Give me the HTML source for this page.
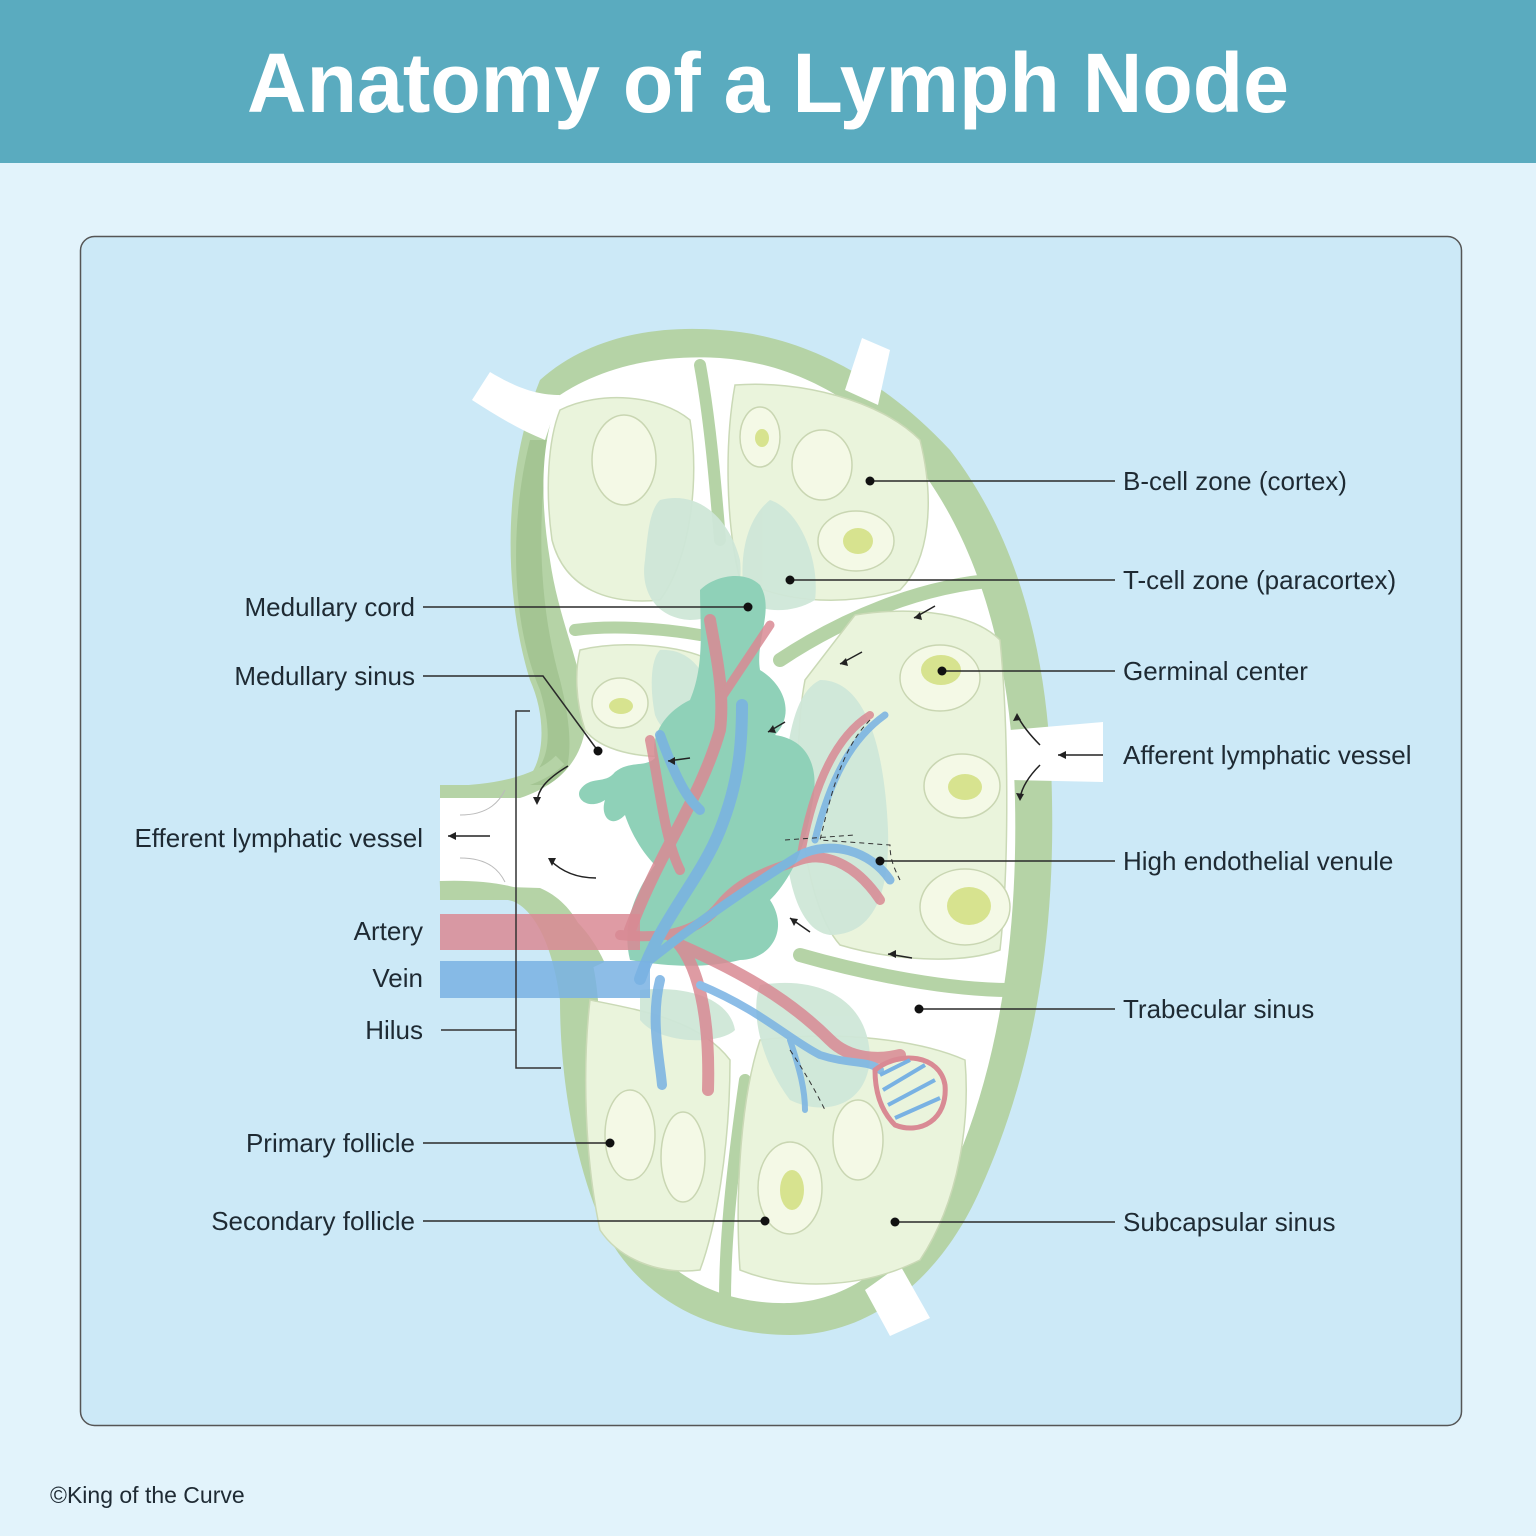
<!DOCTYPE html>
<html><head><meta charset="utf-8"><style>
html,body{margin:0;padding:0;width:1536px;height:1536px;overflow:hidden;background:#e2f3fb}
svg{display:block}
text{font-family:"Liberation Sans",sans-serif}
</style></head><body>
<svg width="1536" height="1536" viewBox="0 0 1536 1536" xmlns="http://www.w3.org/2000/svg">
<rect x="0" y="0" width="1536" height="1536" fill="#e2f3fb"/>
<rect x="0" y="0" width="1536" height="163" fill="#5aabbf"/>
<text x="768" y="112" text-anchor="middle" font-size="84" font-weight="bold" fill="#fff" textLength="1042" lengthAdjust="spacingAndGlyphs">Anatomy of a Lymph Node</text>
<rect x="80.5" y="236.5" width="1381" height="1189" rx="14" fill="#cce9f7" stroke="#555" stroke-width="1.5"/>

<!-- capsule -->
<path d="M540,380 C590,335 660,325 720,330 C800,335 880,375 950,450 C1020,540 1050,660 1052,800 C1055,950 1030,1080 980,1190 C940,1280 870,1335 790,1335 C700,1335 630,1290 600,1220 C575,1160 560,1080 560,1000 C555,960 540,910 510,900 L440,900 L440,785 L520,785 C545,770 548,720 530,680 C505,600 500,480 540,380 Z" fill="#b5d3a6"/>
<path d="M530,440 C510,520 510,620 540,690 C555,740 548,770 520,785 L560,785 C575,760 570,720 560,680 C540,610 535,520 550,440 Z" fill="#9cbf8c" opacity="0.7"/>
<!-- white sinus -->
<path d="M560,395 C610,362 670,355 720,358 C800,364 870,405 925,475 C985,560 1012,670 1015,800 C1018,940 998,1065 955,1165 C915,1250 858,1300 790,1303 C712,1305 655,1268 630,1210 C610,1160 598,1080 598,1000 C594,950 580,905 540,888 L440,885 L440,798 L520,798 C560,785 580,760 585,730 C590,680 560,630 550,560 C540,500 540,440 560,395 Z" fill="#fff"/>
<!-- hilus edges -->
<path d="M440,792 C500,792 540,780 560,760" fill="none" stroke="#b5d3a6" stroke-width="12"/>
<path d="M440,888 C520,885 570,905 598,965" fill="none" stroke="#b5d3a6" stroke-width="14"/>
<path d="M460,815 C490,815 500,800 505,790 M460,858 C490,858 500,872 505,882" fill="none" stroke="#bbb" stroke-width="1"/>
<!-- afferent vessels -->
<path d="M472,400 L490,372 C520,390 540,395 560,395 L545,440 C520,430 495,415 472,400 Z" fill="#fff"/>
<path d="M845,390 L862,338 L890,350 L878,405 Z" fill="#fff"/>
<path d="M1010,730 L1103,722 L1103,782 L1010,780 Z" fill="#fff"/>
<path d="M865,1290 L890,1336 L930,1318 L900,1265 Z" fill="#fff"/>
<!-- trabeculae -->
<path d="M700,365 C710,420 715,480 720,540" stroke="#b5d3a6" stroke-width="12" fill="none" stroke-linecap="round"/>
<path d="M575,630 C610,625 660,628 700,635" stroke="#b5d3a6" stroke-width="12" fill="none" stroke-linecap="round"/>
<path d="M780,660 C840,620 920,585 1000,580" stroke="#b5d3a6" stroke-width="14" fill="none" stroke-linecap="round"/>
<path d="M800,955 C870,975 950,990 1010,990" stroke="#b5d3a6" stroke-width="14" fill="none" stroke-linecap="round"/>
<path d="M745,1080 C735,1150 725,1230 725,1300" stroke="#b5d3a6" stroke-width="12" fill="none" stroke-linecap="round"/>

<!-- lobules -->
<g fill="#eaf4dc" stroke="#cad9b6" stroke-width="1.5">
<path d="M560,410 C600,390 660,395 690,420 C700,480 690,560 660,600 C610,605 565,590 552,540 C545,490 548,440 560,410 Z"/>
<path d="M735,385 C800,380 880,400 920,440 C935,500 930,560 900,590 C850,605 790,605 740,580 C725,520 725,440 735,385 Z"/>
<path d="M855,615 C920,605 975,615 1000,640 C1008,720 1010,860 1000,950 C960,965 890,960 840,945 C800,900 790,760 805,680 Z"/>
<path d="M580,650 C620,640 680,645 710,660 C710,700 700,740 680,755 C640,760 600,750 585,730 C575,700 575,670 580,650 Z"/>
<path d="M590,1000 C640,1010 700,1020 730,1060 C730,1150 715,1230 700,1270 C660,1275 620,1260 600,1230 C585,1160 582,1070 590,1000 Z"/>
<path d="M760,1040 C840,1030 920,1040 965,1060 C970,1120 960,1200 920,1260 C860,1290 790,1290 740,1270 C735,1200 740,1100 760,1040 Z"/>
</g>
<!-- paracortex -->
<g fill="#cfe7d8" opacity="0.95">
<path d="M660,500 C700,490 730,520 740,560 C745,600 720,620 690,620 C655,618 640,590 645,560 C648,530 650,510 660,500 Z"/>
<path d="M770,500 C800,510 820,560 815,600 C790,615 760,612 745,600 C738,560 745,520 770,500 Z"/>
<path d="M820,680 C870,680 885,760 888,830 C890,900 870,935 830,935 C790,930 780,850 785,770 C790,720 800,690 820,680 Z"/>
<path d="M660,650 C700,648 715,690 710,720 C690,745 665,740 655,715 C650,690 650,660 660,650 Z"/>
<path d="M760,985 C820,975 870,1000 870,1060 C865,1110 820,1115 790,1100 C760,1060 750,1010 760,985 Z"/>
<path d="M640,990 C690,985 730,1000 735,1030 C720,1045 660,1045 640,1020 Z"/>
</g>
<!-- medullary cords -->
<path d="M700,590 C715,575 745,570 760,585 C775,610 755,640 760,670 C785,685 795,715 775,735 C810,740 820,770 812,805 C805,850 790,880 770,900 C790,930 770,960 740,960 C700,970 660,965 630,960 C620,920 640,885 655,865 C640,850 630,830 625,815 C610,830 600,815 605,800 C590,810 575,800 580,790 C590,775 605,785 615,772 C630,760 645,768 655,758 C650,735 665,712 690,700 C705,665 700,625 700,590 Z" fill="#8fd1b8"/>
<!-- follicles -->
<g fill="#f4f9e6" stroke="#c9d6b2" stroke-width="1.5">
<ellipse cx="624" cy="460" rx="32" ry="45"/>
<ellipse cx="760" cy="437" rx="20" ry="30"/>
<ellipse cx="822" cy="465" rx="30" ry="35"/>
<ellipse cx="856" cy="541" rx="38" ry="30"/>
<ellipse cx="620" cy="703" rx="28" ry="25"/>
<ellipse cx="940" cy="678" rx="40" ry="33"/>
<ellipse cx="962" cy="786" rx="38" ry="32"/>
<ellipse cx="965" cy="907" rx="45" ry="38"/>
<ellipse cx="630" cy="1135" rx="25" ry="45"/>
<ellipse cx="683" cy="1157" rx="22" ry="45"/>
<ellipse cx="790" cy="1188" rx="32" ry="46"/>
<ellipse cx="858" cy="1140" rx="25" ry="40"/>
</g>
<g fill="#d7e38f">
<ellipse cx="762" cy="438" rx="7" ry="9"/>
<ellipse cx="858" cy="541" rx="15" ry="13"/>
<ellipse cx="621" cy="706" rx="12" ry="8"/>
<ellipse cx="941" cy="670" rx="20" ry="15"/>
<ellipse cx="965" cy="787" rx="17" ry="13"/>
<ellipse cx="969" cy="906" rx="22" ry="19"/>
<ellipse cx="792" cy="1190" rx="12" ry="20"/>
</g>
<!-- blood vessels -->
<rect x="440" y="914" width="200" height="36" fill="#d98a94" opacity="0.85"/>
<rect x="440" y="961" width="210" height="37" fill="#79b2e3" opacity="0.85"/>
<g fill="none" stroke-linecap="round" opacity="0.85">
<path d="M630,930 C660,850 700,800 720,730 C725,690 715,650 710,620" stroke="#d98a94" stroke-width="12"/>
<path d="M720,700 C740,670 760,640 770,625" stroke="#d98a94" stroke-width="9"/>
<path d="M650,740 C660,790 665,840 680,870" stroke="#d98a94" stroke-width="10"/>
<path d="M620,935 C670,940 700,930 720,905 C740,880 770,870 800,860 C830,850 860,870 880,900" stroke="#d98a94" stroke-width="10"/>
<path d="M670,935 C700,960 710,1020 708,1090" stroke="#d98a94" stroke-width="12"/>
<path d="M680,945 C760,980 800,1010 830,1040 C850,1060 880,1060 900,1055" stroke="#d98a94" stroke-width="12"/>
<path d="M800,860 C810,800 830,740 870,715" stroke="#d98a94" stroke-width="8"/>
<path d="M640,979 C660,920 700,880 720,830 C740,780 742,740 742,705" stroke="#79b2e3" stroke-width="12"/>
<path d="M660,735 C680,790 690,800 700,810" stroke="#79b2e3" stroke-width="10"/>
<path d="M660,980 C650,1020 660,1060 662,1085" stroke="#79b2e3" stroke-width="10"/>
<path d="M650,960 C700,920 760,880 800,855 C830,840 870,850 890,880" stroke="#79b2e3" stroke-width="9"/>
<path d="M815,840 C830,780 850,740 885,715" stroke="#79b2e3" stroke-width="7"/>
<path d="M700,985 C760,1010 790,1040 820,1055 C850,1065 870,1060 880,1070" stroke="#79b2e3" stroke-width="8"/>
<path d="M790,1040 C800,1070 805,1090 805,1110" stroke="#79b2e3" stroke-width="6"/>
</g>
<!-- capillary loop -->
<path d="M875,1070 C900,1050 940,1055 945,1085 C948,1120 920,1135 895,1125 C880,1110 875,1090 875,1070 Z" fill="none" stroke="#d98a94" stroke-width="5"/>
<g stroke="#79b2e3" stroke-width="4"><line x1="880" y1="1075" x2="910" y2="1060"/><line x1="883" y1="1090" x2="925" y2="1065"/><line x1="888" y1="1105" x2="935" y2="1080"/><line x1="895" y1="1118" x2="940" y2="1098"/></g>
<!-- dashed HEV outlines -->
<g fill="none" stroke="#333" stroke-width="1" stroke-dasharray="5,4">
<path d="M870,720 C840,750 830,800 820,840 L890,845 C890,860 895,870 900,880"/>
<path d="M785,840 L855,835"/>
<path d="M790,1050 C810,1080 820,1100 825,1110"/>
</g>
<!-- flow arrows -->
<g stroke="#222" stroke-width="1.5" fill="none">
<path d="M935,606 L914,618"/><path d="M862,652 L840,664"/><path d="M785,722 L768,732"/><path d="M690,758 L668,761"/>
<path d="M568,766 C545,780 538,790 537,802"/><path d="M596,878 C575,878 560,870 550,860"/>
<path d="M810,932 L790,918"/><path d="M912,958 L888,954"/>
<path d="M490,836 L448,836"/><path d="M1103,755 L1058,755"/>
<path d="M1040,745 C1030,735 1022,725 1017,715"/><path d="M1040,765 C1030,775 1022,787 1020,798"/>
</g>
<g fill="#222">
<polygon points="914,618 920,612 922,620"/><polygon points="840,664 846,658 848,666"/><polygon points="768,732 773,725 776,733"/><polygon points="668,761 675,757 675,765"/>
<polygon points="448,836 456,832 456,840"/><polygon points="1058,755 1066,751 1066,759"/>
<polygon points="537,805 533,797 541,797"/><polygon points="548,858 556,858 552,866"/>
<polygon points="1017,713 1013,721 1021,720"/><polygon points="1020,801 1016,793 1024,794"/>
<polygon points="790,918 798,919 794,926"/><polygon points="888,954 896,950 896,958"/>
</g>
<!-- hilus bracket -->
<path d="M530,711 L516,711 L516,1068 L561,1068" fill="none" stroke="#333" stroke-width="1.5"/>
<line x1="441" y1="1030" x2="516" y2="1030" stroke="#333" stroke-width="1.5"/>

<!-- leader lines -->
<g stroke="#2a2a2a" stroke-width="1.5" fill="none">
<line x1="870" y1="481" x2="1115" y2="481"/>
<line x1="790" y1="580" x2="1115" y2="580"/>
<line x1="942" y1="671" x2="1115" y2="671"/>
<line x1="880" y1="861" x2="1115" y2="861"/>
<line x1="919" y1="1009" x2="1115" y2="1009"/>
<line x1="895" y1="1222" x2="1115" y2="1222"/>
<line x1="423" y1="607" x2="748" y2="607"/>
<path d="M423,676 L543,676 L598,751"/>
<line x1="423" y1="1143" x2="610" y2="1143"/>
<line x1="423" y1="1221" x2="765" y2="1221"/>
</g>
<g fill="#111">
<circle cx="870" cy="481" r="4.5"/><circle cx="790" cy="580" r="4.5"/><circle cx="942" cy="671" r="4.5"/>
<circle cx="880" cy="861" r="4.5"/><circle cx="919" cy="1009" r="4.5"/><circle cx="895" cy="1222" r="4.5"/>
<circle cx="748" cy="607" r="4.5"/><circle cx="598" cy="751" r="4.5"/><circle cx="610" cy="1143" r="4.5"/><circle cx="765" cy="1221" r="4.5"/>
</g>
<!-- labels -->
<g font-size="26" fill="#1e2a33">
<text x="1123" y="490">B-cell zone (cortex)</text>
<text x="1123" y="589">T-cell zone (paracortex)</text>
<text x="1123" y="680">Germinal center</text>
<text x="1123" y="764">Afferent lymphatic vessel</text>
<text x="1123" y="870">High endothelial venule</text>
<text x="1123" y="1018">Trabecular sinus</text>
<text x="1123" y="1231">Subcapsular sinus</text>
<g text-anchor="end">
<text x="415" y="616">Medullary cord</text>
<text x="415" y="685">Medullary sinus</text>
<text x="423" y="847">Efferent lymphatic vessel</text>
<text x="423" y="940">Artery</text>
<text x="423" y="987">Vein</text>
<text x="423" y="1039">Hilus</text>
<text x="415" y="1152">Primary follicle</text>
<text x="415" y="1230">Secondary follicle</text>
</g>
<text x="50" y="1503" font-size="23">©King of the Curve</text>
</g>
</svg>
</body></html>
